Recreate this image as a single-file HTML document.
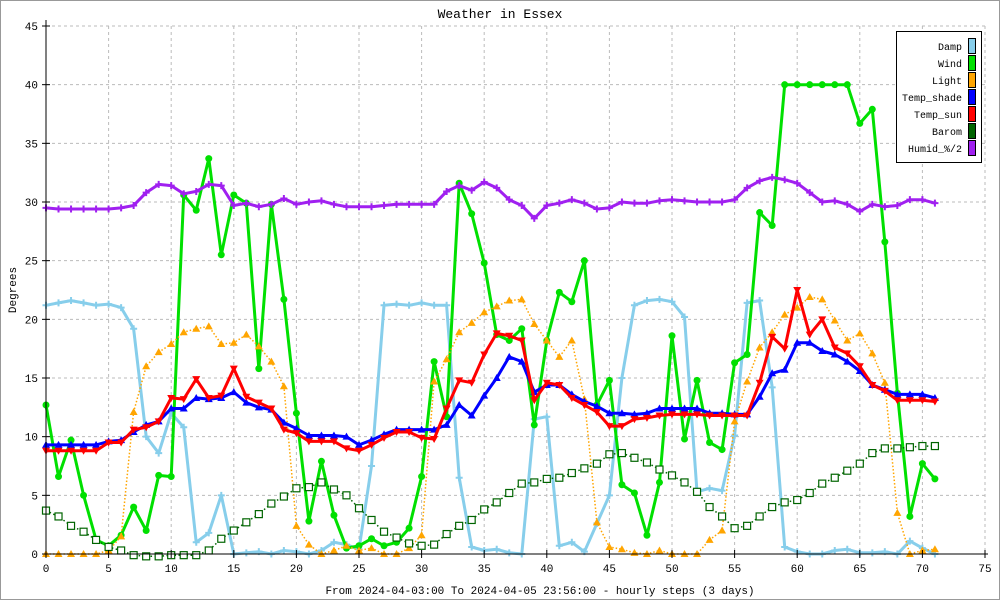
<!DOCTYPE html>
<html><head><meta charset="utf-8"><style>
body{margin:0;background:#fff}
svg{display:block;font-family:"Liberation Mono","DejaVu Sans Mono",monospace}
</style></head><body>
<svg id="chart" width="1000" height="600" viewBox="0 0 1000 600" xmlns="http://www.w3.org/2000/svg">
<rect x="0.5" y="0.5" width="999" height="599" fill="#fff" stroke="#999"/>
<text x="500" y="18" text-anchor="middle" font-size="13">Weather in Essex</text>
<text x="540" y="594" text-anchor="middle" font-size="11">From 2024-04-03:00 To 2024-04-05 23:56:00 - hourly steps (3 days)</text>
<text x="16" y="290" text-anchor="middle" font-size="11" transform="rotate(-90 16 290)">Degrees</text>
<g id="grid"></g>
<g id="series"></g>
<g id="axes"></g>
<g id="legend"></g>
</svg>
<script>
const xTicks=[0,5,10,15,20,25,30,35,40,45,50,55,60,65,70,75];
const yTicks=[0,5,10,15,20,25,30,35,40,45];
const damp=[21.2,21.4,21.6,21.4,21.2,21.3,21,19.2,10,8.6,12,10.8,1,1.8,5,0,0.1,0.2,0,0.3,0.2,0,0.3,1,0.8,0.4,7.5,21.2,21.3,21.2,21.4,21.2,21.2,6.5,0.6,0.3,0.4,0.1,0,11.5,11.7,0.7,1,0.2,2.6,5,15,21.2,21.6,21.7,21.5,20.2,5.3,5.6,5.4,10.1,21.4,21.6,14.2,0.6,0.2,0,0,0.3,0.4,0.1,0.1,0.2,0,1.1,0.5,0];
const wind=[12.7,6.6,9.7,5,1.2,0.7,1.6,4,2,6.7,6.6,30.6,29.3,33.7,25.5,30.6,29.9,15.8,29.8,21.7,12,2.8,7.9,3.3,0.5,0.7,1.3,0.7,1,2.2,6.6,16.4,11.7,31.6,29,24.8,18.7,18.2,19.2,11,18.2,22.3,21.5,25,12.7,14.8,5.9,5.2,1.6,6.1,18.6,9.8,14.8,9.5,8.9,16.3,17,29.1,28,40,40,40,40,40,40,36.7,37.9,26.6,13.7,3.2,7.7,6.4];
const light=[0,0,0,0,0,0.3,1.5,12.1,16,17.2,17.9,18.9,19.2,19.4,17.9,18,18.7,17.7,16.4,14.3,2.4,0.8,0,0.3,0.7,0.3,0.5,0,0,0.5,1.6,14.7,16.6,18.9,19.7,20.6,21.1,21.6,21.7,19.6,18.2,16.8,18.2,13.2,2.7,0.6,0.4,0.1,0,0.3,0,0,0,1.2,2,11.3,14.7,17.6,18.9,20.4,21,21.9,21.7,19.9,18.2,18.8,17.1,14.6,3.5,0,0.3,0.4];
const tempShade=[9.3,9.3,9.3,9.3,9.3,9.6,9.7,10.4,11,11.3,12.4,12.4,13.3,13.2,13.3,13.8,12.9,12.5,12.3,11.2,10.7,10.1,10.1,10.1,10,9.3,9.7,10.2,10.6,10.6,10.6,10.6,11,12.7,11.8,13.5,15,16.8,16.4,13.8,14.4,14.4,13.6,13,12.6,12,12,11.9,12,12.4,12.4,12.4,12.4,12,12,11.9,11.9,13.4,15.4,15.7,18,18,17.3,17,16.4,15.6,14.4,14,13.6,13.6,13.6,13.3];
const tempSun=[8.8,8.8,8.8,8.8,8.8,9.5,9.5,10.6,10.8,11.3,13.3,13.2,14.9,13.3,13.5,15.8,13.4,12.9,12.4,10.6,10.3,9.6,9.6,9.6,9,8.8,9.3,9.9,10.4,10.4,9.9,9.8,12.4,14.8,14.6,17,18.8,18.6,18.2,13.1,14.6,14.4,13.3,12.7,12.1,10.9,10.9,11.5,11.6,11.8,11.9,11.9,11.9,11.8,11.8,11.8,11.8,14.6,18.5,17.5,22.5,18.7,20,17.6,17.1,16,14.4,13.9,13.1,13.1,13.1,13];
const barom=[3.7,3.2,2.4,1.9,1.2,0.6,0.3,-0.1,-0.2,-0.2,-0.1,-0.1,-0.1,0.3,1.3,2,2.7,3.4,4.3,4.9,5.6,5.7,6.1,5.5,5,3.9,2.9,1.9,1.4,0.9,0.7,0.8,1.7,2.4,2.9,3.8,4.4,5.2,6,6.1,6.4,6.5,6.9,7.3,7.7,8.5,8.6,8.2,7.8,7.2,6.7,6.1,5.3,4,3.2,2.2,2.4,3.2,4,4.4,4.6,5.2,6,6.5,7.1,7.7,8.6,9,9,9.1,9.2,9.2];
const humid=[29.5,29.4,29.4,29.4,29.4,29.4,29.5,29.7,30.8,31.5,31.4,30.7,30.9,31.5,31.4,29.7,29.9,29.6,29.8,30.3,29.8,30,30.1,29.8,29.6,29.6,29.6,29.7,29.8,29.8,29.8,29.8,30.9,31.4,31,31.7,31.2,30.2,29.7,28.6,29.7,29.9,30.2,29.9,29.4,29.5,30,29.9,29.9,30.1,30.2,30.1,30,30,30,30.2,31.2,31.8,32.1,31.9,31.6,30.8,30,30.1,29.8,29.2,29.8,29.6,29.7,30.2,30.2,29.9];
const legendNames=["Damp","Wind","Light","Temp_shade","Temp_sun","Barom","Humid_%/2"];

const NS="http://www.w3.org/2000/svg";
const X0=46,X1=985,Y0=554,Y1=26;
function xs(v){return X0+(v-0)*(X1-X0)/75;}
function ys(v){return Y0-(v-0)*(Y0-Y1)/45;}
function mk(tag,attrs,parent){const e=document.createElementNS(NS,tag);for(const k in attrs)e.setAttribute(k,attrs[k]);parent.appendChild(e);return e;}
const grid=document.getElementById('grid'),axes=document.getElementById('axes'),ser=document.getElementById('series'),leg=document.getElementById('legend');

xTicks.forEach(t=>{
  if(t>0){const l=mk('line',{x1:xs(t),x2:xs(t),y1:Y1,y2:Y0,stroke:'#bbb','stroke-dasharray':'3,3'},grid);
  
  }
  const tk=mk('line',{x1:xs(t),x2:xs(t),y1:Y0-4,y2:Y0+4,stroke:'#000'},axes);
  
  
  const tx=mk('text',{x:xs(t),y:Y0+18,'text-anchor':'middle','font-size':'11'},axes);
  tx.textContent=t;
  
  
});
yTicks.forEach(t=>{
  if(t>0){const l=mk('line',{x1:X0,x2:X1+3,y1:ys(t),y2:ys(t),stroke:'#bbb','stroke-dasharray':'3,3'},grid);
  
  }
  const tk=mk('line',{x1:X0-4,x2:X0+4,y1:ys(t),y2:ys(t),stroke:'#000'},axes);
  
  
  const tx=mk('text',{x:X0-8,y:ys(t)+4,'text-anchor':'end','font-size':'11'},axes);
  tx.textContent=t;
  
  
});
const ax1=mk('line',{x1:X0,x2:X0,y1:Y1-6,y2:Y0,stroke:'#000'},axes);


const ax2=mk('line',{x1:X0,x2:X1+3,y1:Y0,y2:Y0,stroke:'#000'},axes);



const seriesDefs=[
 {name:'damp',data:damp,color:'#87ceeb',w:3,dash:null,marker:'plus'},
 {name:'wind',data:wind,color:'#00e000',w:3,dash:null,marker:'circle'},
 {name:'light',data:light,color:'#ffa500',w:1.5,dash:'1.5,2',marker:'tri'},
 {name:'temp-shade',data:tempShade,color:'#0000ff',w:3,dash:null,marker:'tri'},
 {name:'temp-sun',data:tempSun,color:'#ff0000',w:3,dash:null,marker:'dtri'},
 {name:'barom',data:barom,color:'#006400',w:1.5,dash:'1.5,2.5',marker:'square'},
 {name:'humid',data:humid,color:'#a020f0',w:3,dash:null,marker:'plus'}
];
seriesDefs.forEach(s=>{
  const g=mk('g',{},ser);
  
  
  const pts=s.data.map((v,i)=>xs(i).toFixed(1)+','+ys(v).toFixed(1)).join(' ');
  const a={points:pts,fill:'none',stroke:s.color,'stroke-width':s.w,'stroke-linejoin':'round'};
  if(s.dash)a['stroke-dasharray']=s.dash;
  const pl=mk('polyline',a,g);
  
  
  s.data.forEach((v,i)=>{
    const x=xs(i),y=ys(v);let m;
    if(s.marker==='circle')m=mk('circle',{cx:x,cy:y,r:3.5,fill:s.color},g);
    else if(s.marker==='tri')m=mk('polygon',{points:`${x},${y-4} ${x-4},${y+3} ${x+4},${y+3}`,fill:s.color},g);
    else if(s.marker==='dtri')m=mk('polygon',{points:`${x},${y+4} ${x-4},${y-3} ${x+4},${y-3}`,fill:s.color},g);
    else if(s.marker==='square')m=mk('rect',{x:x-3.5,y:y-3.5,width:7,height:7,fill:'#fff',stroke:s.color,'stroke-width':1.2},g);
    else m=mk('path',{d:`M${x-3.5},${y}H${x+3.5}M${x},${y-3.5}V${y+3.5}`,stroke:s.color,'stroke-width':2},g);
    
    
  });
});

const lb=mk('rect',{x:896.5,y:31.5,width:85,height:131,fill:'#fff',stroke:'#000'},leg);


legendNames.forEach((n,i)=>{
  const y=46+i*17;
  const t=mk('text',{x:962,y:y+4,'text-anchor':'end','font-size':'10'},leg);
  t.textContent=n;
  
  
  const r=mk('rect',{x:968.5,y:y-7.5,width:7,height:15,fill:seriesDefs[i].color,stroke:'#000'},leg);
  
  
});
</script>
</body></html>
